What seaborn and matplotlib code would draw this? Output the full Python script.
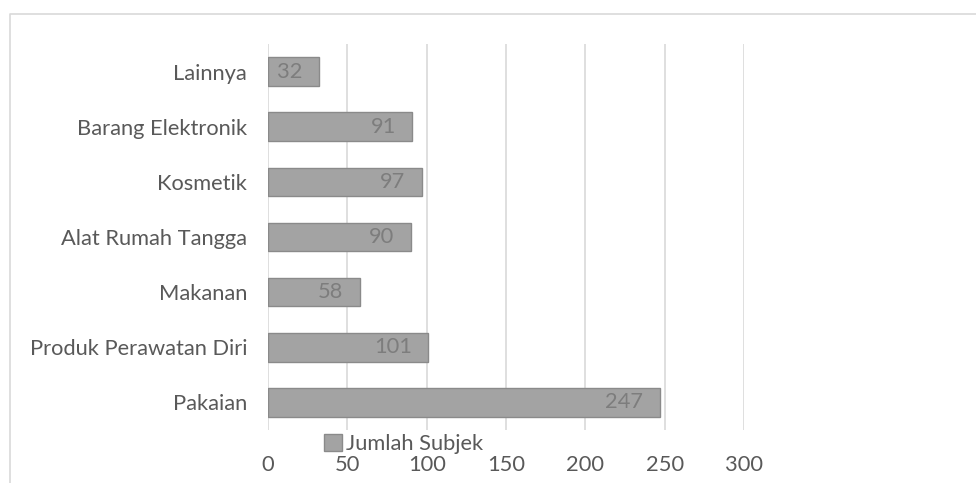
import matplotlib
matplotlib.use("Agg")
import matplotlib.pyplot as plt
from matplotlib.lines import Line2D
import seaborn as sns
import pandas as pd

categories = ["Lainnya", "Barang Elektronik", "Kosmetik", "Alat Rumah Tangga",
              "Makanan", "Produk Perawatan Diri", "Pakaian"]
values = [32, 91, 97, 90, 58, 101, 247]
series_name = "Jumlah Subjek"
x_ticks = [0, 50, 100, 150, 200, 250, 300]

sns.set_theme(style="white")
plt.rcParams['font.family'] = ['Lato', 'DejaVu Sans']

TEXT = "#595959"
GRID = "#d9d9d9"
BAR = "#a3a3a3"
EDGE = "#8a8a8a"

df = pd.DataFrame({"cat": categories, "val": values})

W, H = 976, 483
fig = plt.figure(figsize=(W / 100, H / 100), dpi=100)
ax = fig.add_axes([268 / W, 1 - 430 / H, (744 - 268) / W, (430 - 44) / H])

sns.barplot(data=df, x="val", y="cat", order=categories, orient="h",
            color=BAR, edgecolor=EDGE, linewidth=1.0, width=0.52,
            saturation=1, label=series_name, ax=ax, zorder=3)

ax.set_xlim(0, 300)
ax.set_ylim(6.5, -0.5)
ax.set_xticks(x_ticks)
ax.set_xticklabels([str(t) for t in x_ticks])
ax.xaxis.grid(True, color=GRID, linewidth=1.2, zorder=0)
ax.yaxis.grid(False)
for s in ax.spines.values():
    s.set_visible(False)
ax.set_xlabel("")
ax.set_ylabel("")
ax.tick_params(axis="x", length=0, pad=18, labelsize=15.75, labelcolor=TEXT)
ax.tick_params(axis="y", length=0, pad=15, labelsize=15.75, labelcolor=TEXT)

for i, v in enumerate(values):
    ax.annotate(str(v), xy=(v, i), xytext=(-12, 0), textcoords="offset points",
                ha="right", va="center", fontsize=15.75, color="#7d7d7d", zorder=5)

handles, labels = ax.get_legend_handles_labels()
if ax.get_legend() is not None:
    ax.get_legend().remove()
fig.legend(handles, labels, loc="center left",
           bbox_to_anchor=(324 / W, 1 - 444 / H), frameon=False,
           handlelength=0.8, handleheight=0.8, handletextpad=0.2,
           borderpad=0, borderaxespad=0, fontsize=15.75, labelcolor=TEXT)

fig.add_artist(Line2D([10 / W, 10 / W, 1], [0, 1 - 14 / H, 1 - 14 / H],
                      transform=fig.transFigure, color=GRID, linewidth=1.2))

fig.savefig("out.png", dpi=100)
